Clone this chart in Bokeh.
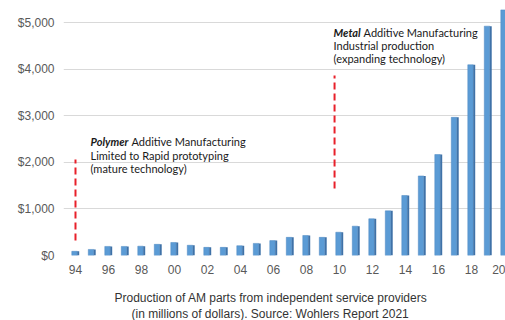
from bokeh.plotting import figure
from bokeh.models import ColumnDataSource, FixedTicker, NumeralTickFormatter, Label, Range1d, Title
from bokeh.transform import dodge
from bokeh.embed import file_html
from bokeh.resources import INLINE

years = list(range(1994, 2021))
values = [90, 130, 195, 195, 200, 240, 280, 220, 175, 175, 210, 260, 320, 390, 430,
          390, 500, 630, 790, 960, 1290, 1710, 2170, 2970, 4100, 4930, 5280]

tick_years = list(range(1994, 2021, 2))
tick_labels = ["94", "96", "98", "00", "02", "04", "06", "08", "10", "12", "14", "16", "18", "20"]
y_ticks = [0, 1000, 2000, 3000, 4000, 5000]

marker_x = [1994.0, 2009.7]
marker_top = [2065, 3870]
marker_bottom = [323, 1440]

caption = ["Production of AM parts from independent service providers",
           "(in millions of dollars). Source: Wohlers Report 2021"]

src = ColumnDataSource(dict(year=years, value=values))

p = figure(width=505, height=320, output_backend="svg", toolbar_location=None,
           x_range=Range1d(1993.273, 2020.06), y_range=Range1d(0, 5310),
           min_border_left=63, min_border_right=0, min_border_top=8, min_border_bottom=65)
p.outline_line_color = None
p.background_fill_color = "white"
p.border_fill_color = "white"

p.xgrid.visible = False
p.ygrid.grid_line_color = "#d9d9d9"
p.ygrid.grid_line_width = 1

# bars: face + darker side
p.vbar(x=dodge("year", -0.06, range=p.x_range), top="value", bottom=0, width=0.33, source=src,
       fill_color="#5b9bd5", line_color="#4a86c0", line_width=0.5)
p.vbar(x=dodge("year", 0.165, range=p.x_range), top="value", bottom=0, width=0.12, source=src,
       fill_color="#3f72a8", line_color=None)

# axes
p.yaxis.ticker = FixedTicker(ticks=y_ticks)
p.yaxis.formatter = NumeralTickFormatter(format="$0,0")
p.xaxis.ticker = FixedTicker(ticks=tick_years)
p.xaxis.major_label_overrides = {y: l for y, l in zip(tick_years, tick_labels)}
for ax in (p.xaxis[0], p.yaxis[0]):
    ax.axis_line_color = None
    ax.major_tick_line_color = None
    ax.minor_tick_line_color = None
    ax.major_tick_out = 0
    ax.major_tick_in = 0
    ax.major_label_text_font = "Liberation Sans"
    ax.major_label_text_font_size = "12px"
    ax.major_label_text_color = "#595959"
p.yaxis.major_label_standoff = 9
p.xaxis.major_label_standoff = 9
# blank axis label to leave a gap before the caption
p.xaxis.axis_label = " "
p.xaxis.axis_label_text_font_size = "8px"
p.xaxis.axis_label_standoff = 0

# red dashed markers
msrc = ColumnDataSource(dict(x=marker_x, top=marker_top, bottom=marker_bottom))
p.segment(x0="x", y0="bottom", x1="x", y1="top", source=msrc,
          line_color="#e8202a", line_width=2, line_dash="7 4")

font = "Lato"
fs = "11px"
tc = "#1a1a1a"

def add_text(x, y, text, style="normal", x_offset=0):
    p.add_layout(Label(x=x, y=y, text=text, x_offset=x_offset, text_font=font, text_font_size=fs,
                       text_font_style=style, text_color=tc, text_baseline="middle",
                       text_align="left"))

# polymer annotation
add_text(1994.91, 2452, "Polymer", "bold italic")
add_text(1994.91, 2452, "Additive Manufacturing", x_offset=41)
add_text(1994.91, 2151, "Limited to Rapid prototyping")
add_text(1994.91, 1871, "(mature technology)")

# metal annotation
add_text(2009.64, 4796, "Metal", "bold italic")
add_text(2009.64, 4796, "Additive Manufacturing", x_offset=30)
add_text(2009.64, 4516, "Industrial production")
add_text(2009.64, 4237, "(expanding technology)")

# caption below the axis
offsets = [51, 68]
for line, off in zip(caption, offsets):
    p.add_layout(Title(text=line, align="left", offset=off, standoff=0,
                       text_font="Liberation Sans", text_font_size="12px",
                       text_font_style="normal", text_color="#333333"), "below")

open("out.html", "w").write(file_html(p, INLINE))
